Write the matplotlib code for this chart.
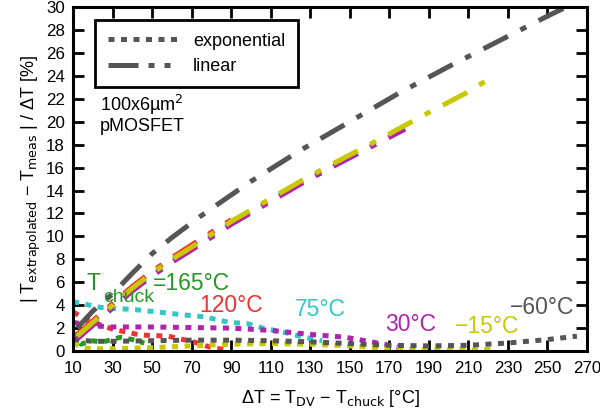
import numpy as np
import matplotlib
matplotlib.use('Agg')
import matplotlib.pyplot as plt

plt.rcParams['font.family'] = ['Liberation Sans', 'DejaVu Sans']

# chuck temperatures and their colours
labels = ['=165°C', '120°C', '75°C', '30°C', '\u221215°C', '\u221260°C']
colors = ['#229922', '#ee3333', '#33c8c8', '#b023b0', '#c8c800', '#555555']

# exponential extrapolation error
exp_x_165 = [10, 14, 19, 25, 34, 40, 46]
exp_y_165 = [1.6, 0.6, 0.9, 0.8, 1.2, 1.0, 0.7]
exp_x_120 = [10, 17, 30, 44, 58, 71, 80, 88]
exp_y_120 = [3.4, 2.7, 1.9, 1.4, 1.3, 0.8, 0.3, 0.1]
exp_x_75 = [10, 24, 42, 69, 76, 89, 98, 106, 115, 130, 136]
exp_y_75 = [4.3, 3.8, 3.6, 3.1, 3.0, 2.5, 2.4, 2.0, 1.7, 1.1, 0.9]
exp_x_30 = [10, 20, 30, 50, 70, 90, 110, 130, 148, 161, 170, 178]
exp_y_30 = [2.5, 2.2, 2.1, 2.1, 2.05, 2.0, 1.8, 1.45, 1.2, 0.8, 0.5, 0.2]
exp_x_m15 = [10, 15, 20, 30, 50, 70, 90, 110, 130, 150, 170, 190, 210, 222]
exp_y_m15 = [0.7, 0.3, 0.2, 0.2, 0.3, 0.45, 0.6, 0.65, 0.6, 0.45, 0.25, 0.1, 0.1, 0.15]
exp_x_m60 = [10, 20, 30, 50, 70, 90, 110, 130, 150, 170, 190, 210, 230, 250, 265]
exp_y_m60 = [1.0, 0.85, 0.85, 0.9, 0.95, 0.95, 0.9, 0.8, 0.65, 0.5, 0.45, 0.5, 0.7, 1.0, 1.3]

# linear extrapolation error
lin_x_165 = [12, 20, 30, 40, 46]
lin_y_165 = [1.3, 2.5, 4.0, 5.5, 6.3]
lin_x_120 = [12, 20, 30, 40, 50, 60, 74, 90]
lin_y_120 = [1.45, 2.65, 4.15, 5.65, 6.95, 8.15, 9.7, 11.45]
lin_x_75 = [12, 20, 30, 40, 50, 60, 74, 90, 100, 110, 125, 136]
lin_y_75 = [1.2, 2.4, 3.9, 5.4, 6.7, 7.9, 9.4, 11.2, 12.2, 13.2, 14.7, 15.7]
lin_x_30 = [12, 20, 30, 40, 50, 60, 74, 90, 100, 110, 125, 140, 150, 160, 178]
lin_y_30 = [1.05, 2.25, 3.75, 5.25, 6.55, 7.75, 9.25, 11.05, 12.05, 13.05, 14.55, 15.95, 16.85, 17.75, 19.35]
lin_x_m15 = [12, 20, 30, 40, 50, 60, 74, 90, 100, 110, 125, 140, 150, 160, 175, 190, 200, 210, 222]
lin_y_m15 = [1.3, 2.5, 4.0, 5.5, 6.8, 8.0, 9.5, 11.3, 12.3, 13.3, 14.8, 16.2, 17.1, 18.0, 19.4, 20.8, 21.7, 22.6, 23.9]
lin_x_m60 = [12, 20, 30, 40, 50, 60, 74, 84, 100, 125, 150, 175, 200, 225, 250, 262]
lin_y_m60 = [2.0, 3.5, 5.0, 6.8, 8.5, 9.9, 11.7, 12.9, 14.8, 17.5, 20.0, 22.5, 24.8, 27.0, 29.2, 30.2]

exp_x = [exp_x_165, exp_x_120, exp_x_75, exp_x_30, exp_x_m15, exp_x_m60]
exp_y = [exp_y_165, exp_y_120, exp_y_75, exp_y_30, exp_y_m15, exp_y_m60]
lin_x = [lin_x_165, lin_x_120, lin_x_75, lin_x_30, lin_x_m15, lin_x_m60]
lin_y = [lin_y_165, lin_y_120, lin_y_75, lin_y_30, lin_y_m15, lin_y_m60]

# label anchor points (left edge, vertical centre) in data units
label_x = [50.5, 74, 122, 168, 203, 231]
label_y = [5.9, 4.0, 3.6, 2.35, 2.1, 3.8]

fig = plt.figure(figsize=(6.0, 4.13), dpi=100)
ax = fig.add_axes([0.122, 0.150, 0.856, 0.833])

lw = 3.6
dot = (0, (1.2, 1.3))
dashdot = (0, (5.5, 2.8, 1.3, 2.8))

for xs, ys, c in zip(exp_x, exp_y, colors):
    ax.plot(xs, ys, color=c, lw=lw, linestyle=dot, dash_capstyle='butt')
for xs, ys, c in zip(lin_x, lin_y, colors):
    ax.plot(xs, ys, color=c, lw=lw, linestyle=dashdot, dash_capstyle='butt')

for t, x, y, c in zip(labels, label_x, label_y, colors):
    ax.text(x, y, t, color=c, fontsize=16.5, ha='left', va='center')
# the "T chuck" prefix of the 165°C label, subscript dropped low
ax.text(16.5, 5.9, 'T', color=colors[0], fontsize=16.5, ha='left', va='center')
ax.text(25.0, 4.7, 'chuck', color=colors[0], fontsize=14, ha='left', va='center')

ax.text(23.5, 22.5, '100x6µm$^2$\npMOSFET', fontsize=13, ha='left', va='top', linespacing=1.1)

# legend proxies
h1, = ax.plot([], [], color='#555555', lw=lw, linestyle=dot, dash_capstyle='butt')
h2, = ax.plot([], [], color='#555555', lw=lw, linestyle=(0, (6, 2, 1.2, 2, 1.2, 2)), dash_capstyle='butt')
leg = ax.legend([h1, h2], ['exponential', 'linear'], loc='upper left',
                bbox_to_anchor=(0.043, 0.962), fontsize=13, fancybox=False,
                handlelength=3.9, borderpad=0.7, labelspacing=0.45,
                handletextpad=0.8, borderaxespad=0, framealpha=1)
leg.get_frame().set_edgecolor('black')
leg.get_frame().set_linewidth(2)

ax.set_xlim(10, 270)
ax.set_ylim(0, 30)
ax.set_xticks(np.arange(10, 271, 20))
ax.set_yticks(np.arange(0, 31, 2))
ax.tick_params(direction='in', length=8, width=2, top=True, right=True, labelsize=12.2)
ax.tick_params(axis='x', pad=7)
ax.tick_params(axis='y', pad=6)
for s in ax.spines.values():
    s.set_linewidth(2.2)

ax.set_xlabel('\u0394T = T$_{\\rm DV}$ \u2212 T$_{\\rm chuck}$ [°C]', fontsize=13, labelpad=9)
ax.set_ylabel('| T$_{\\rm extrapolated}$ \u2212 T$_{\\rm meas}$ | / \u0394T [%]', fontsize=13, labelpad=2)

fig.savefig('out.png', dpi=100)
